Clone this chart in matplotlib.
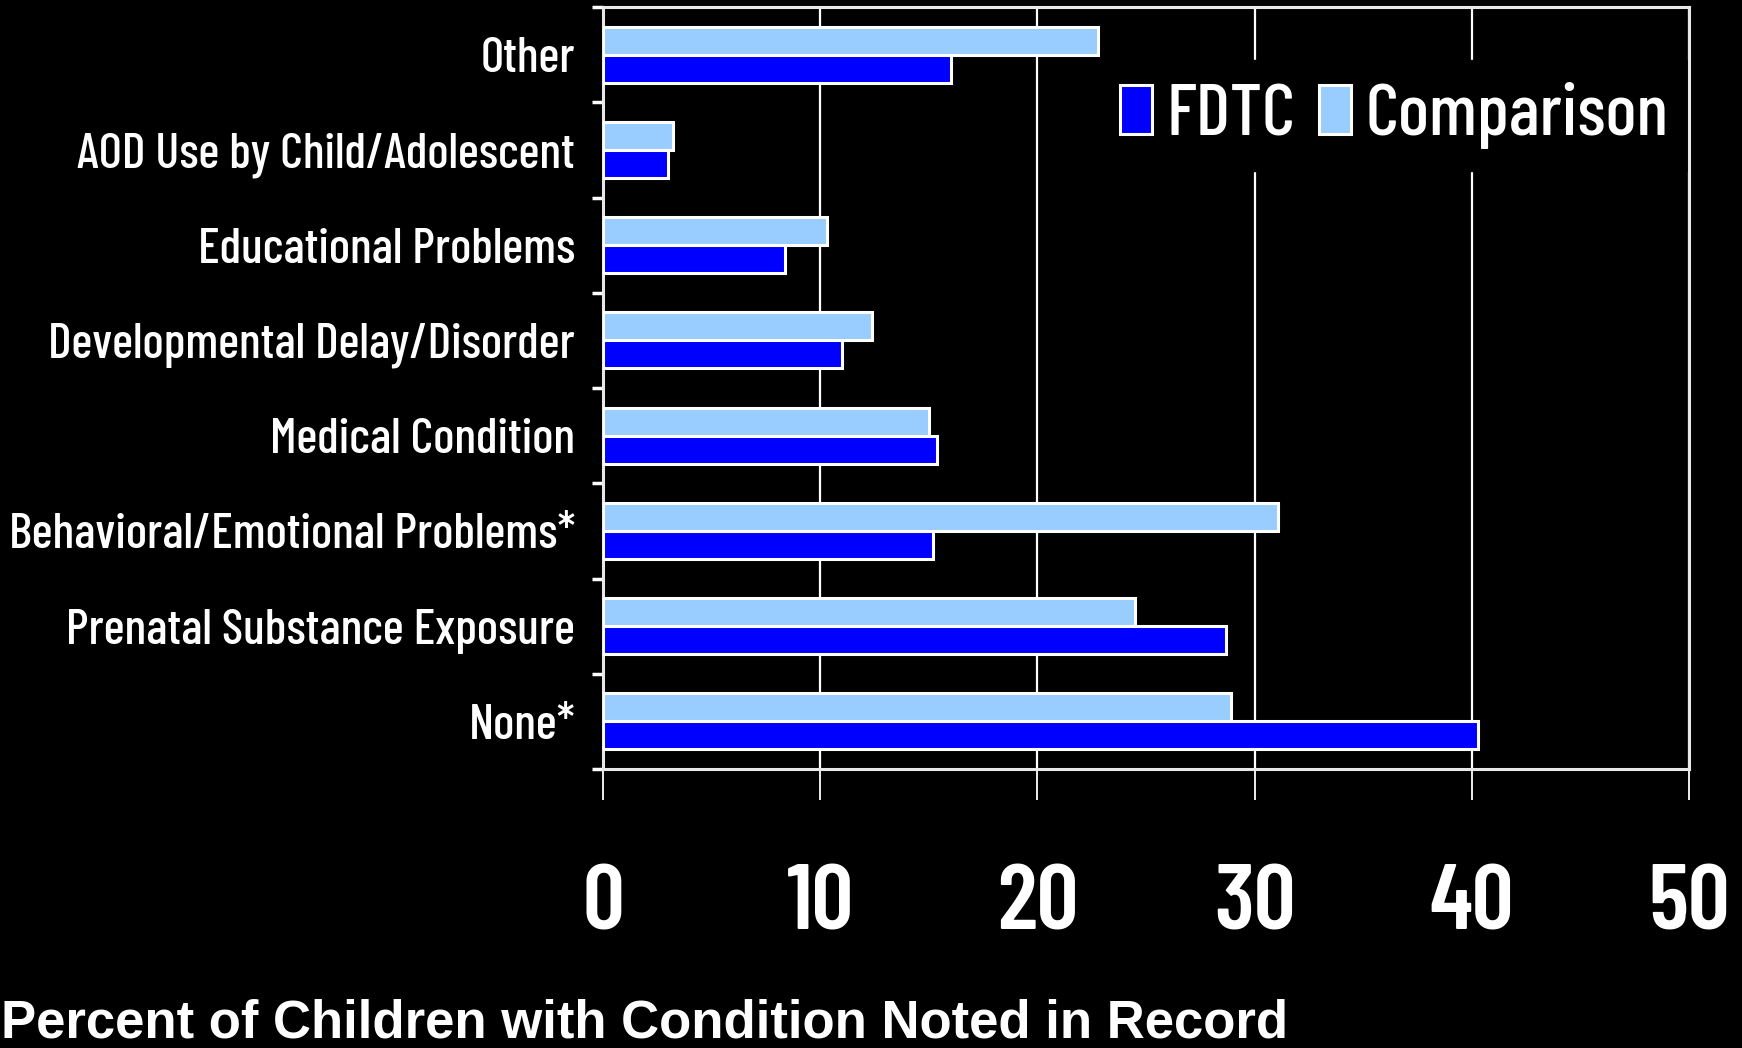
import numpy as np
import matplotlib
matplotlib.use("Agg")
import matplotlib.pyplot as plt

# categories listed bottom to top
categories = [
    "None*",
    "Prenatal Substance Exposure",
    "Behavioral/Emotional Problems*",
    "Medical Condition",
    "Developmental Delay/Disorder",
    "Educational Problems",
    "AOD Use by Child/Adolescent",
    "Other",
]
fdtc = [40.3, 28.7, 15.2, 15.4, 11.0, 8.4, 3.0, 16.0]
comparison = [28.9, 24.5, 31.1, 15.0, 12.4, 10.3, 3.2, 22.8]
x_ticks = [0, 10, 20, 30, 40, 50]
x_label = "Percent of Children with Condition Noted in Record"

FDTC_COLOR = "#0000FF"
COMP_COLOR = "#99CCFF"
COND = ["Barlow Condensed", "DejaVu Sans"]
W, H = 1742, 1048

fig = plt.figure(figsize=(W / 100, H / 100), dpi=100, facecolor="black")
ax = fig.add_axes([603 / W, 1 - 769 / H, 1086 / W, 762 / H], facecolor="black")

y = np.arange(len(categories))
bh = 0.295
ax.barh(y + bh / 2, comparison, height=bh, color=COMP_COLOR, edgecolor="white",
        linewidth=2.2, label="Comparison", zorder=3)
ax.barh(y - bh / 2, fdtc, height=bh, color=FDTC_COLOR, edgecolor="white",
        linewidth=2.2, label="FDTC", zorder=3)

ax.set_xlim(0, 50)
ax.set_ylim(-0.5, len(categories) - 0.5)

# vertical grid lines
ax.set_xticks(x_ticks)
ax.grid(axis="x", color="white", linewidth=1.6, zorder=1)
ax.tick_params(axis="x", colors="white", length=22, width=1.3, direction="out",
               pad=47, labelsize=67)
for t in ax.get_xticklabels():
    t.set_family(COND)
    t.set_fontweight("semibold")

# category labels at centres, tick marks at slot boundaries
ax.set_yticks(y)
ax.set_yticklabels(categories, family=COND, fontweight="medium", fontsize=36, color="white")
ax.tick_params(axis="y", length=0, pad=20)
ax.set_yticks(np.arange(-0.5, len(categories)), minor=True)
ax.tick_params(axis="y", which="minor", length=8, width=2.5, color="white")

for s in ax.spines.values():
    s.set_color("#e8e8e8")
    s.set_linewidth(2.2)
    s.set_zorder(2.5)

handles, labels = ax.get_legend_handles_labels()
leg = ax.legend(handles[::-1], labels[::-1], ncol=2, loc="upper right",
                bbox_to_anchor=(1.001, 0.93), frameon=True, fancybox=False,
                facecolor="black", edgecolor="black", framealpha=1.0,
                prop={"family": COND, "weight": "medium", "size": 52.5},
                handlelength=0.43, handleheight=0.645, handletextpad=0.2,
                columnspacing=0.33, borderpad=0.3, borderaxespad=0.0)
leg.set_zorder(2)
for t in leg.get_texts():
    t.set_color("white")

fig.text(1 / W, 1 - 1038 / H, x_label, family=["Liberation Sans", "DejaVu Sans"],
         fontweight="bold", fontsize=38, color="white", ha="left", va="baseline")

fig.savefig("out.png", facecolor="black")
